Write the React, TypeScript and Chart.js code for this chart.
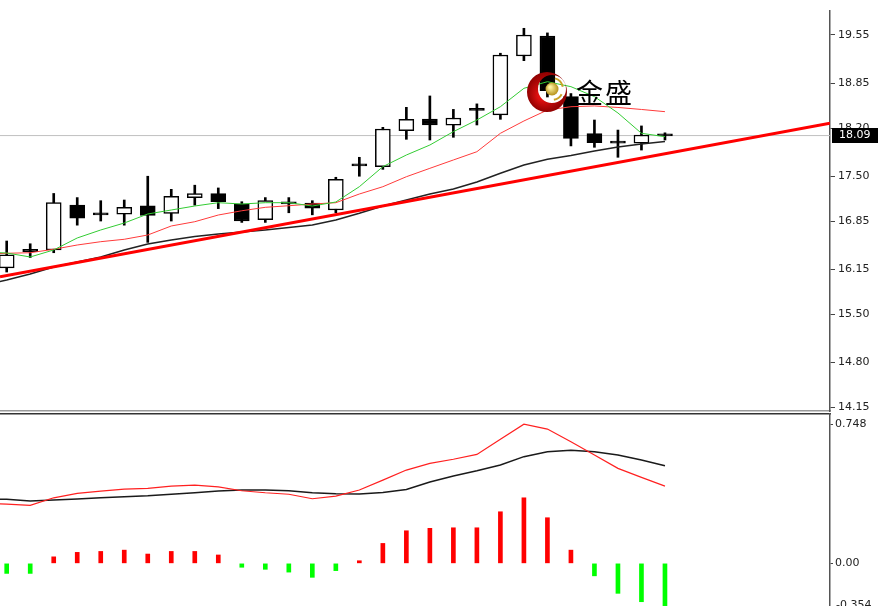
import React, { useEffect, useRef } from 'react';
import { Chart, registerables } from 'chart.js';
Chart.register(...registerables);

// ---- Candles (OHLC), bar index 0..28 ----
const OPEN = [16.17, 16.44, 16.43, 17.08, 16.94, 16.95, 17.07, 16.96, 17.19, 17.25, 17.10, 16.87, 17.13, 17.11, 17.01, 17.65, 17.64, 18.16, 18.33, 18.24, 18.455, 18.39, 19.245, 19.535, 18.655, 18.12, 17.99, 17.98, 18.085];
const HIGH = [16.56, 16.52, 17.25, 17.19, 17.145, 17.155, 17.50, 17.31, 17.37, 17.33, 17.13, 17.19, 17.19, 17.145, 17.485, 17.775, 18.21, 18.50, 18.665, 18.47, 18.55, 19.285, 19.647, 19.58, 18.70, 18.316, 18.17, 18.23, 18.13];
const LOW = [16.11, 16.32, 16.39, 16.79, 16.85, 16.79, 16.54, 16.85, 17.08, 17.03, 16.83, 16.83, 16.97, 16.94, 16.97, 17.50, 17.60, 18.036, 18.026, 18.065, 18.244, 18.326, 19.177, 18.65, 17.94, 17.92, 17.775, 17.88, 18.026];
const CLOSE = [16.36, 16.405, 17.116, 16.89, 16.95, 17.05, 16.93, 17.21, 17.25, 17.13, 16.85, 17.145, 17.097, 17.035, 17.456, 17.66, 18.186, 18.326, 18.244, 18.345, 18.465, 19.26, 19.55, 18.74, 18.05, 17.987, 17.98, 18.099, 18.09];
const DOJI_EPS = 0.02;

// ---- Indicator lines, bar index -1..28 (first value = bar before the window) ----
const LINE_START = -1;
const MA_FAST = [16.40, 16.386, 16.328, 16.43, 16.604, 16.72, 16.821, 16.952, 17.01, 17.068, 17.116, 17.097, 17.116, 17.116, 17.068, 17.126, 17.348, 17.639, 17.808, 17.953, 18.147, 18.316, 18.509, 18.776, 18.872, 18.80, 18.655, 18.418, 18.123, 18.074];
const MA_MID = [16.37, 16.382, 16.39, 16.44, 16.502, 16.55, 16.585, 16.647, 16.778, 16.84, 16.937, 16.999, 17.049, 17.072, 17.097, 17.116, 17.242, 17.348, 17.493, 17.615, 17.736, 17.856, 18.123, 18.302, 18.461, 18.509, 18.52, 18.498, 18.469, 18.437];
const MA_SLOW = [15.92, 15.994, 16.08, 16.183, 16.255, 16.328, 16.43, 16.517, 16.575, 16.625, 16.662, 16.691, 16.72, 16.756, 16.792, 16.865, 16.962, 17.068, 17.155, 17.242, 17.315, 17.416, 17.543, 17.663, 17.746, 17.801, 17.866, 17.924, 17.968, 18.004];

// ---- Trend line (bar index, price) ----
const TREND_X = [-0.285, 35.02];
const TREND_Y = [16.04, 18.27];
const LAST_PRICE = 18.09;

// ---- Axes ----
const X_MIN = -0.285;
const X_MAX = 35.02;
const PRICE_MIN = 14.093;
const PRICE_MAX = 19.898;
const PRICE_TICKS = [14.15, 14.80, 15.50, 16.15, 16.85, 17.50, 18.20, 18.85, 19.55];

// ---- MACD ----
const DIF = [0.322, 0.318, 0.311, 0.352, 0.376, 0.388, 0.399, 0.403, 0.415, 0.42, 0.411, 0.39, 0.379, 0.371, 0.347, 0.361, 0.394, 0.447, 0.501, 0.537, 0.559, 0.585, 0.666, 0.747, 0.721, 0.653, 0.582, 0.51, 0.462, 0.415];
const DEA = [0.346, 0.344, 0.335, 0.34, 0.345, 0.352, 0.358, 0.363, 0.371, 0.379, 0.388, 0.394, 0.394, 0.39, 0.379, 0.374, 0.372, 0.381, 0.397, 0.437, 0.469, 0.497, 0.528, 0.573, 0.599, 0.608, 0.599, 0.582, 0.555, 0.524];
const HIST = [-0.054, -0.054, 0.035, 0.059, 0.064, 0.071, 0.05, 0.064, 0.064, 0.045, -0.021, -0.032, -0.047, -0.075, -0.039, 0.014, 0.107, 0.175, 0.188, 0.191, 0.191, 0.277, 0.352, 0.245, 0.071, -0.067, -0.161, -0.206, -0.24];
const MACD_MIN = -0.229;
const MACD_MAX = 0.802;
const MACD_TICKS = [0.748, 0.0];
const MACD_BOTTOM_LABEL = '-0.354';

const FONT = { family: 'DejaVu Sans', size: 11 };
const pts = (arr: number[], start = 0) => arr.map((y, i) => ({ x: i + start, y }));

export default function App() {
  const priceRef = useRef<HTMLCanvasElement>(null);
  const macdRef = useRef<HTMLCanvasElement>(null);

  useEffect(() => {
    const bodyColor = OPEN.map((o, i) => {
      const c = CLOSE[i];
      if (Math.abs(c - o) < DOJI_EPS) return '#000000';
      return c >= o ? '#ffffff' : '#000000';
    });

    const overlay = {
      id: 'overlay',
      afterDraw(chart: any) {
        const ctx = chart.ctx;
        const y = chart.scales.y.getPixelForValue(LAST_PRICE);
        // logo watermark
        const cx = 547, cy = 92;
        ctx.save();
        const g = ctx.createRadialGradient(cx - 5, cy + 4, 4, cx, cy, 21);
        g.addColorStop(0, '#e01010');
        g.addColorStop(1, '#8a0000');
        ctx.beginPath();
        ctx.arc(cx, cy, 20, 0, Math.PI * 2);
        ctx.arc(cx + 5, cy - 3, 14, 0, Math.PI * 2, true);
        ctx.fillStyle = g;
        ctx.fill('evenodd');
        ctx.strokeStyle = '#c9a227';
        ctx.lineWidth = 2;
        ctx.beginPath();
        ctx.arc(cx + 5, cy - 3, 11, -1.3, -0.2);
        ctx.stroke();
        ctx.beginPath();
        ctx.arc(cx + 5, cy - 3, 11, 0.5, 1.4);
        ctx.stroke();
        const gb = ctx.createRadialGradient(cx + 3, cy - 5, 1, cx + 5, cy - 3, 7);
        gb.addColorStop(0, '#fff3a0');
        gb.addColorStop(1, '#b08a10');
        ctx.beginPath();
        ctx.arc(cx + 5, cy - 3, 6.5, 0, Math.PI * 2);
        ctx.fillStyle = gb;
        ctx.fill();
        ctx.fillStyle = '#000';
        ctx.font = '27px "Noto Sans CJK SC"';
        ctx.textBaseline = 'middle';
        ctx.textAlign = 'left';
        ctx.fillText('金', 576, 93);
        ctx.fillText('盛', 605, 93);
        // last price box
        ctx.fillStyle = '#000';
        ctx.fillRect(832, Math.round(y) - 8, 46, 15);
        ctx.fillStyle = '#fff';
        ctx.font = '11px "DejaVu Sans"';
        ctx.textBaseline = 'middle';
        ctx.fillText(LAST_PRICE.toFixed(2), 839, y);
        ctx.restore();
      },
    };

    const c1 = new Chart(priceRef.current!, {
      type: 'bar',
      data: {
        datasets: [
          { type: 'line', data: TREND_X.map((x, i) => ({ x, y: TREND_Y[i] })), borderColor: '#ff0000', borderWidth: 3, pointRadius: 0, order: 0 },
          { type: 'line', data: pts(MA_FAST, LINE_START), borderColor: '#33cc33', borderWidth: 1, pointRadius: 0, order: 0 },
          { type: 'line', data: pts(MA_MID, LINE_START), borderColor: '#ff3b3b', borderWidth: 1, pointRadius: 0, order: 0 },
          { type: 'line', data: pts(MA_SLOW, LINE_START), borderColor: '#222222', borderWidth: 1.5, pointRadius: 0, order: 0 },
          {
            type: 'bar', data: OPEN.map((o, i) => ({ x: i, y: [Math.min(o, CLOSE[i]), Math.max(o, CLOSE[i])] })),
            backgroundColor: bodyColor, borderColor: '#000000', borderWidth: 1.5,
            borderSkipped: false, barThickness: 15, minBarLength: 2, grouped: false, order: 1,
          },
          {
            type: 'bar', data: LOW.map((l, i) => ({ x: i, y: [l, HIGH[i]] })),
            backgroundColor: '#000000', barThickness: 2, grouped: false, order: 2,
          },
          { type: 'line', data: [{ x: X_MIN, y: LAST_PRICE }, { x: X_MAX, y: LAST_PRICE }], borderColor: '#c0c0c0', borderWidth: 1, pointRadius: 0, order: 3 },
        ] as any,
      },
      options: {
        animation: false,
        responsive: false,
        maintainAspectRatio: false,
        layout: { padding: { top: 11, bottom: 1, left: 0, right: 0 } },
        plugins: { legend: { display: false }, tooltip: { enabled: false } },
        scales: {
          x: {
            type: 'linear', min: X_MIN, max: X_MAX, offset: false,
            ticks: { display: false }, grid: { display: false, drawTicks: false },
            border: { display: true, color: '#9a9a9a', width: 1.5 },
          },
          y: {
            position: 'right', min: PRICE_MIN, max: PRICE_MAX,
            afterFit: (s: any) => { s.width = 48; s.paddingTop = 0; s.paddingBottom = 0; },
            afterBuildTicks: (s: any) => { s.ticks = PRICE_TICKS.map((v) => ({ value: v })); },
            ticks: { autoSkip: false, callback: (v: any) => Number(v).toFixed(2), font: FONT, color: '#222', padding: 3 },
            grid: { drawOnChartArea: false, tickLength: 5, color: '#444' },
            border: { color: '#555', width: 1.5 },
          },
        },
      } as any,
      plugins: [overlay],
    });

    const bottomLabel = {
      id: 'bottomLabel',
      afterDraw(chart: any) {
        const ctx = chart.ctx;
        ctx.save();
        ctx.fillStyle = '#222';
        ctx.font = '11px "DejaVu Sans"';
        ctx.textBaseline = 'middle';
        ctx.fillText(MACD_BOTTOM_LABEL, 836, chart.chartArea.bottom - 0.5);
        ctx.restore();
      },
    };

    const c2 = new Chart(macdRef.current!, {
      type: 'bar',
      data: {
        datasets: [
          { type: 'line', data: pts(DIF, LINE_START), borderColor: '#ff2020', borderWidth: 1.2, pointRadius: 0, order: 0 },
          { type: 'line', data: pts(DEA, LINE_START), borderColor: '#1a1a1a', borderWidth: 1.5, pointRadius: 0, order: 0 },
          {
            type: 'bar', data: pts(HIST), backgroundColor: HIST.map((v) => (v >= 0 ? '#ff0000' : '#00ff00')),
            barThickness: 4, grouped: false, order: 1,
          },
        ] as any,
      },
      options: {
        animation: false,
        responsive: false,
        maintainAspectRatio: false,
        layout: { padding: { top: 2, bottom: 0, left: 0, right: 0 } },
        plugins: { legend: { display: false }, tooltip: { enabled: false } },
        scales: {
          x: {
            type: 'linear', position: 'top', min: X_MIN, max: X_MAX, offset: false,
            ticks: { display: false }, grid: { display: false, drawTicks: false },
            border: { display: true, color: '#333', width: 1.5 },
          },
          y: {
            position: 'right', min: MACD_MIN, max: MACD_MAX,
            afterFit: (s: any) => { s.width = 48; s.paddingTop = 0; s.paddingBottom = 0; },
            afterBuildTicks: (s: any) => { s.ticks = MACD_TICKS.map((v) => ({ value: v })); },
            ticks: { autoSkip: false, callback: (v: any) => (Number(v) === 0 ? '0.00' : String(v)), font: FONT, color: '#222', padding: 2 },
            grid: { drawOnChartArea: false, tickLength: 3, color: '#444' },
            border: { color: '#555', width: 1.5 },
          },
        },
      } as any,
      plugins: [bottomLabel],
    });

    return () => { c1.destroy(); c2.destroy(); };
  }, []);

  return (
    <div style={{ position: 'fixed', left: 0, top: 0, width: 878, height: 606, overflow: 'hidden', background: '#fff' }}>
      <canvas ref={priceRef} width={878} height={412} style={{ position: 'absolute', left: 0, top: 0, width: 878, height: 412 }} />
      <canvas ref={macdRef} width={878} height={194} style={{ position: 'absolute', left: 0, top: 412, width: 878, height: 194 }} />
    </div>
  );
}
